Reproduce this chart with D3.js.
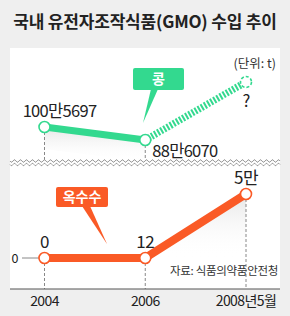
<!DOCTYPE html>
<html>
<head>
<meta charset="utf-8">
<script src="https://cdn.jsdelivr.net/npm/d3@7"></script>
<style>
  body { margin: 0; background: #efefef; }
  svg { display: block; font-family: "Noto Sans CJK KR", "Noto Sans", sans-serif; }
</style>
</head>
<body>
<div id="chart"></div>
<script>
// data
var years = ["2004", "2006", "2008년5월"];
var soyValues = [1005697, 886070, 1420000];   // last one is "?" (unknown), plotted as an estimate
var soyLabels = ["100만5697", "88만6070", "?"];
var cornValues = [0, 12, 50000];
var cornLabels = ["0", "12", "5만"];

var width = 290, height = 316;
var green = "#33d98f", orange = "#fa5a26";

var svg = d3.select("#chart").append("svg")
    .attr("width", width)
    .attr("height", height);

var defs = svg.append("defs");
var grad = defs.append("linearGradient").attr("id", "shade")
    .attr("x1", 0).attr("y1", 0).attr("x2", 0).attr("y2", 1);
grad.append("stop").attr("offset", "0%").attr("stop-color", "#e6e6e6");
grad.append("stop").attr("offset", "100%").attr("stop-color", "#ffffff").attr("stop-opacity", 0);

// background + title
svg.append("rect").attr("width", width).attr("height", height).attr("fill", "#efefef");
svg.append("text")
    .attr("x", 145).attr("y", 28)
    .attr("text-anchor", "middle")
    .attr("font-size", 17).attr("font-weight", "bold").attr("fill", "#222")
    .attr("letter-spacing", -0.2)
    .text("국내 유전자조작식품(GMO) 수입 추이");

// white panel
svg.append("rect").attr("x", 10).attr("y", 48).attr("width", 270).attr("height", 241).attr("fill", "#fff");

var x = d3.scalePoint().domain(years).range([44.5, 246]);
var ySoy = d3.scaleLinear().domain([886070, 1005697]).range([140, 127]);
var yCorn = d3.scaleLinear().domain([0, 50000]).range([258, 194]);

var soy = years.map((y, i) => ({year: y, v: soyValues[i], label: soyLabels[i]}));
var corn = years.map((y, i) => ({year: y, v: cornValues[i], label: cornLabels[i]}));

// shading under lines
svg.append("path")
    .datum(soy.slice(0, 2))
    .attr("fill", "url(#shade)")
    .attr("d", d3.area().x(d => x(d.year)).y0(d => ySoy(d.v) + 22).y1(d => ySoy(d.v)));
svg.append("path")
    .datum(corn.slice(1))
    .attr("fill", "url(#shade)")
    .attr("d", d3.area().x(d => x(d.year)).y0(258).y1(d => yCorn(d.v)));

// guide lines
svg.selectAll(".gsoy").data(soy.slice(0, 2)).join("line")
    .attr("x1", d => x(d.year)).attr("x2", d => x(d.year))
    .attr("y1", d => ySoy(d.v)).attr("y2", 160)
    .attr("stroke", "#888").attr("stroke-dasharray", "3,2");
svg.selectAll(".gcorn").data(corn).join("line")
    .attr("x1", d => x(d.year)).attr("x2", d => x(d.year))
    .attr("y1", d => yCorn(d.v)).attr("y2", 289)
    .attr("stroke", "#888").attr("stroke-dasharray", "3,2");

// wavy break
var wave = d3.range(10, 281, 1).map(px => [px, Math.sin((px - 10) / 6 * 2 * Math.PI) * 1.3]);
[161, 164.5].forEach(function(y0) {
  svg.append("path")
      .attr("d", d3.line().x(d => d[0]).y(d => y0 + d[1])(wave))
      .attr("fill", "none").attr("stroke", "#999").attr("stroke-width", 1);
});

// x axis
svg.append("line").attr("x1", 10).attr("x2", 280).attr("y1", 289).attr("y2", 289)
    .attr("stroke", "#555").attr("stroke-width", 1.2);
svg.selectAll(".xl").data(years).join("text")
    .attr("x", d => x(d)).attr("y", 306)
    .attr("text-anchor", "middle").attr("font-size", 14).attr("fill", "#222")
    .attr("letter-spacing", -0.6)
    .text(d => d);

// corn zero tick
svg.append("line").attr("x1", 22).attr("x2", 40).attr("y1", yCorn(0)).attr("y2", yCorn(0)).attr("stroke", "#888");
svg.append("text").attr("x", 15).attr("y", yCorn(0) + 4.5).attr("text-anchor", "middle")
    .attr("font-size", 12.5).attr("fill", "#222").text("0");

// soybean lines
svg.append("path").datum(soy.slice(0, 2))
    .attr("d", d3.line().x(d => x(d.year)).y(d => ySoy(d.v)))
    .attr("stroke", green).attr("stroke-width", 7).attr("fill", "none");
svg.append("path").datum(soy.slice(1))
    .attr("d", d3.line().x(d => x(d.year)).y(d => ySoy(d.v)))
    .attr("stroke", green).attr("stroke-width", 7).attr("fill", "none")
    .attr("stroke-dasharray", "2,1.6");

// corn line
svg.append("path").datum(corn)
    .attr("d", d3.line().x(d => x(d.year)).y(d => yCorn(d.v)))
    .attr("stroke", orange).attr("stroke-width", 8).attr("fill", "none");

// points
svg.selectAll(".ps").data(soy).join("circle")
    .attr("cx", d => x(d.year)).attr("cy", d => ySoy(d.v)).attr("r", 5.5)
    .attr("fill", "#fff").attr("stroke", green).attr("stroke-width", 1.6)
    .attr("stroke-dasharray", (d, i) => i == 2 ? "3,2" : null);
svg.selectAll(".pc").data(corn).join("circle")
    .attr("cx", d => x(d.year)).attr("cy", d => yCorn(d.v)).attr("r", 5.5)
    .attr("fill", "#fff").attr("stroke", orange).attr("stroke-width", 1.6);

// value labels
var soyOff = [[15, -10, "middle"], [7, 17, "start"], [0, 25, "middle"]];
svg.selectAll(".ls").data(soy).join("text")
    .attr("x", (d, i) => x(d.year) + soyOff[i][0])
    .attr("y", (d, i) => ySoy(d.v) + soyOff[i][1])
    .attr("text-anchor", (d, i) => soyOff[i][2])
    .attr("font-size", 16.5).attr("fill", "#222").attr("letter-spacing", -0.7)
    .text(d => d.label);
svg.selectAll(".lc").data(corn).join("text")
    .attr("x", d => x(d.year)).attr("y", d => yCorn(d.v) - 10)
    .attr("text-anchor", "middle")
    .attr("font-size", 17).attr("fill", "#222").attr("letter-spacing", -0.5)
    .text(d => d.label);

// callout boxes
function callout(bx, by, bw, bh, base, tip, color, label) {
  svg.append("path")
      .attr("d", d3.line()([[base[0], by + bh - 1], [base[1], by + bh - 1], tip]))
      .attr("fill", color);
  svg.append("rect").attr("x", bx).attr("y", by).attr("width", bw).attr("height", bh)
      .attr("rx", 2).attr("fill", color);
  svg.append("text").attr("x", bx + bw / 2).attr("y", by + bh / 2 + 5)
      .attr("text-anchor", "middle").attr("font-size", 14).attr("font-weight", "bold")
      .attr("fill", "#fff").text(label);
}
callout(133, 68, 51, 22, [151, 158], [143, 123], green, "콩");
callout(56, 187, 52, 20, [82, 90], [107, 244], orange, "옥수수");

// unit + source
svg.append("text").attr("x", 276).attr("y", 68).attr("text-anchor", "end")
    .attr("font-size", 12.5).attr("fill", "#333").text("(단위: t)");
svg.append("text").attr("x", 278).attr("y", 275).attr("text-anchor", "end")
    .attr("font-size", 11.5).attr("fill", "#333").attr("letter-spacing", -0.3)
    .text("자료: 식품의약품안전청");
</script>
</body>
</html>
